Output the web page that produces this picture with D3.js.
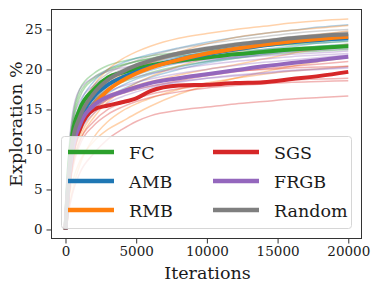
<!DOCTYPE html>
<html><head><meta charset="utf-8">
<script src="https://cdn.jsdelivr.net/npm/d3@7"></script>
<style>body{margin:0;background:#fff}svg{display:block}</style>
</head><body>
<script>
const iterations = [0, 250, 500, 1000, 2000, 3000, 4000, 5000, 6000, 8000, 10000, 12000, 14000, 16000, 18000, 20000];
const methods = ["FC", "AMB", "RMB", "SGS", "FRGB", "Random"];
const colors = ["#2ca02c", "#1f77b4", "#ff7f0e", "#d62728", "#9467bd", "#7f7f7f"];
const xTicks = [0, 5000, 10000, 15000, 20000];
const yTicks = [0, 5, 10, 15, 20, 25];

const fcRuns = [
  [0, 10, 14, 17.5, 19.5, 20.5, 21, 21.4, 21.7, 22.1, 22.4, 22.7, 22.9, 23.1, 23.3, 23.5],
  [0, 9, 13, 16.5, 18.8, 19.8, 20.5, 21, 21.4, 21.9, 22.3, 22.6, 22.9, 23.2, 23.5, 23.8],
  [0, 7, 11, 14, 16.5, 18, 19, 19.7, 20.2, 20.9, 21.4, 21.8, 22.1, 22.4, 22.6, 22.8],
  [0, 8, 11.5, 15, 17.5, 18.8, 19.5, 20, 20.4, 21, 21.5, 21.9, 22.3, 22.6, 22.9, 23.1],
  [0, 6, 10, 13, 16, 17.5, 18.4, 19, 19.6, 20.4, 21, 21.4, 21.8, 22.1, 22.3, 22.5],
  [0, 9.5, 13.5, 17, 19, 20, 20.6, 21, 21.3, 21.7, 22, 22.3, 22.5, 22.7, 22.9, 23]
];
const ambRuns = [
  [0, 8, 12, 15.5, 18.5, 20, 20.8, 21.4, 21.9, 22.7, 23.4, 24, 24.5, 24.9, 25.3, 25.6],
  [0, 6, 9.5, 12.5, 15.5, 17, 18, 18.8, 19.4, 20.3, 21, 21.6, 22.1, 22.5, 22.9, 23.2],
  [0, 7, 10.5, 13.5, 16.5, 18.2, 19.2, 19.9, 20.5, 21.5, 22.2, 22.8, 23.3, 23.7, 24, 24.3],
  [0, 5.5, 9, 12, 15, 16.5, 17.5, 18.3, 19, 20, 20.8, 21.4, 21.9, 22.3, 22.7, 23],
  [0, 7.5, 11, 14.5, 17.5, 19, 19.8, 20.3, 20.8, 21.6, 22.2, 22.7, 23.2, 23.6, 23.9, 24.2],
  [0, 6.5, 10, 13, 16, 17.6, 18.6, 19.3, 19.9, 20.8, 21.5, 22, 22.5, 22.9, 23.3, 23.6]
];
const rmbRuns = [
  [0, 7, 11, 14.5, 18, 20, 21.3, 22.2, 22.9, 23.9, 24.5, 25, 25.4, 25.8, 26.1, 26.3],
  [0, 6, 9.5, 12.5, 16, 18, 19.3, 20.2, 20.9, 22.2, 23.2, 24, 24.5, 24.9, 25.2, 25.5],
  [0, 5, 8, 11, 14, 16, 17.3, 18.3, 19.1, 20.4, 21.4, 22.2, 22.9, 23.5, 24, 24.4],
  [0, 4, 6, 8.5, 11, 12.5, 13.5, 14.5, 15.4, 16.9, 18, 18.9, 19.7, 20.4, 21, 21.5],
  [0, 5.5, 8.5, 11.5, 14.5, 16.3, 17.3, 18, 18.5, 19.3, 20, 20.6, 21.3, 22, 22.6, 23.2],
  [0, 3, 5, 8, 11.5, 13.5, 14.8, 15.7, 16.4, 17.5, 18.3, 18.9, 19.4, 19.8, 20.1, 20.4],
  [0, 6.5, 10, 13.5, 16.5, 18.3, 19.4, 20.2, 20.8, 21.8, 22.5, 23.1, 23.6, 24, 24.4, 24.8]
];
const sgsRuns = [
  [0, 2.5, 4.5, 7, 9.5, 11.3, 12.5, 13.5, 14.2, 14.9, 15.3, 15.7, 16, 16.3, 16.5, 16.7],
  [0, 5, 8, 11, 13.5, 15, 15.8, 16.4, 16.9, 17.6, 18, 18.3, 18.5, 18.7, 18.8, 18.9],
  [0, 6, 9.5, 12.5, 15, 16.3, 17, 17.5, 17.9, 18.6, 19.2, 19.7, 20.1, 20.4, 20.7, 21],
  [0, 4.5, 7.5, 10.5, 13, 14.4, 15.3, 16, 16.5, 17.2, 17.7, 18, 18.2, 18.4, 18.5, 18.6],
  [0, 7, 10.5, 13.5, 15.8, 16.8, 17.4, 17.9, 18.3, 19, 19.5, 19.8, 20, 20.2, 20.3, 20.4]
];
const frgbRuns = [
  [0, 9, 13, 16, 18, 19, 19.6, 20, 20.3, 20.8, 21.2, 21.6, 21.9, 22.2, 22.4, 22.6],
  [0, 6, 9.5, 12.5, 15, 16.3, 17, 17.5, 17.9, 18.5, 18.9, 19.2, 19.5, 19.8, 20, 20.2],
  [0, 7, 10.5, 13.5, 16, 17.2, 17.9, 18.4, 18.8, 19.5, 20, 20.5, 20.9, 21.2, 21.5, 21.8],
  [0, 5.5, 9, 12, 14.5, 15.8, 16.6, 17.2, 17.7, 18.4, 18.9, 19.3, 19.6, 19.9, 20.1, 20.3],
  [0, 8, 12, 15, 17, 18, 18.6, 19.1, 19.5, 20.1, 20.6, 21, 21.3, 21.6, 21.8, 22],
  [0, 10, 14.5, 17.5, 19, 19.8, 20.2, 20.5, 20.7, 21, 21.3, 21.5, 21.7, 21.9, 22.1, 22.3]
];
const randomRuns = [
  [0, 8, 12, 15, 18, 19.5, 20.4, 21.1, 21.7, 22.6, 23.2, 23.7, 24.1, 24.5, 24.8, 25],
  [0, 6, 10, 13, 16, 17.8, 19, 19.8, 20.4, 21.4, 22, 22.5, 23, 23.4, 23.7, 24],
  [0, 7, 11, 14, 17, 18.6, 19.5, 20.3, 20.9, 21.8, 22.5, 23, 23.4, 23.8, 24.1, 24.4],
  [0, 7.5, 11.5, 14.5, 17.5, 19.1, 20, 20.7, 21.3, 22.2, 22.8, 23.3, 23.7, 24.1, 24.4, 24.7]
];

const fcMean = [0, 8, 12, 15, 17.5, 19, 19.6, 20.1, 20.5, 21.1, 21.5, 21.9, 22.2, 22.5, 22.7, 22.9];
const ambMean = [0, 7, 10.5, 13.6, 16.6, 18.1, 19, 19.7, 20.3, 21.2, 21.9, 22.5, 23, 23.4, 23.7, 23.9];
const rmbMean = [0, 6, 9.5, 12.5, 15.5, 17.4, 18.6, 19.5, 20.2, 21.2, 22, 22.6, 23.1, 23.5, 23.8, 24.1];
const sgsMean = [0, 6, 9.5, 12.5, 15, 15.5, 15.9, 16.4, 17.3, 18, 18.1, 18.3, 18.4, 18.8, 19.2, 19.7];
const frgbMean = [0, 6.5, 10, 13, 15.5, 16.6, 17.2, 17.8, 18.3, 18.9, 19.4, 19.9, 20.4, 20.8, 21.2, 21.6];
const randomMean = [0, 7, 11, 14, 17, 18.7, 19.7, 20.5, 21.1, 22, 22.6, 23.1, 23.5, 23.9, 24.2, 24.4];

const allRuns = [fcRuns, ambRuns, rmbRuns, sgsRuns, frgbRuns, randomRuns];
const allMeans = [fcMean, ambMean, rmbMean, sgsMean, frgbMean, randomMean];

const W = 374, H = 290;
const L = 51, R = 362, T = 9, B = 239;
const font = "DejaVu Serif";

const svg = d3.select("body").append("svg").attr("width", W).attr("height", H);
const x = d3.scaleLinear().domain([-1025, 20970]).range([L, R]);
const y = d3.scaleLinear().domain([-1.19, 27.56]).range([B, T]);

svg.append("defs").append("clipPath").attr("id", "clip")
  .append("rect").attr("x", L).attr("y", T).attr("width", R - L).attr("height", B - T);

const line = d3.line().x((d, i) => x(iterations[i])).y(d => y(d)).curve(d3.curveMonotoneX);
const g = svg.append("g").attr("clip-path", "url(#clip)");

allRuns.forEach((runs, m) => {
  runs.forEach(r => {
    g.append("path").attr("d", line(r)).attr("fill", "none")
      .attr("stroke", colors[m]).attr("stroke-width", 1.5).attr("stroke-opacity", 0.35);
  });
});
allMeans.forEach((mv, m) => {
  g.append("path").attr("d", line(mv)).attr("fill", "none")
    .attr("stroke", colors[m]).attr("stroke-width", 4).attr("stroke-linejoin", "round");
});

function txt(sel, size) {
  return sel.style("font-family", font).style("font-size", size + "px").attr("fill", "#1a1a1a");
}

// axes
const xa = svg.append("g").attr("transform", `translate(0,${B})`)
  .call(d3.axisBottom(x).tickValues(xTicks).tickFormat(d3.format("d")).tickSize(4.5).tickPadding(3));
const ya = svg.append("g").attr("transform", `translate(${L},0)`)
  .call(d3.axisLeft(y).tickValues(yTicks).tickSize(4.5).tickPadding(4));
[xa, ya].forEach(a => {
  a.attr("font-family", null).attr("font-size", null);
  a.select(".domain").remove();
  a.selectAll(".tick line").attr("stroke", "#333").attr("stroke-width", 1);
  txt(a.selectAll(".tick text"), 13.5);
});

svg.append("rect").attr("x", L + 0.5).attr("y", T + 0.5).attr("width", R - L - 1).attr("height", B - T - 1)
  .attr("fill", "none").attr("stroke", "#333").attr("stroke-width", 1);

txt(svg.append("text").attr("x", (L + R) / 2 + 1).attr("y", 279).attr("text-anchor", "middle"), 17.5).text("Iterations");
txt(svg.append("text").attr("transform", `translate(22,124) rotate(-90)`).attr("text-anchor", "middle"), 17.5).text("Exploration %");

// legend
const lg = svg.append("g");
lg.append("rect").attr("x", 61.5).attr("y", 136.5).attr("width", 290).attr("height", 92).attr("rx", 3)
  .attr("fill", "#fff").attr("fill-opacity", 0.8).attr("stroke", "#d6d6d6").attr("stroke-width", 1);
methods.forEach((name, i) => {
  const col = Math.floor(i / 3), row = i % 3;
  const hx = col === 0 ? 68 : 213;
  const cy = 152 + row * 29;
  lg.append("line").attr("x1", hx).attr("x2", hx + 46).attr("y1", cy).attr("y2", cy)
    .attr("stroke", colors[i]).attr("stroke-width", 4.5);
  txt(lg.append("text").attr("x", hx + 61).attr("y", cy + 6.5), 17.5).text(name);
});
</script>
</body></html>
